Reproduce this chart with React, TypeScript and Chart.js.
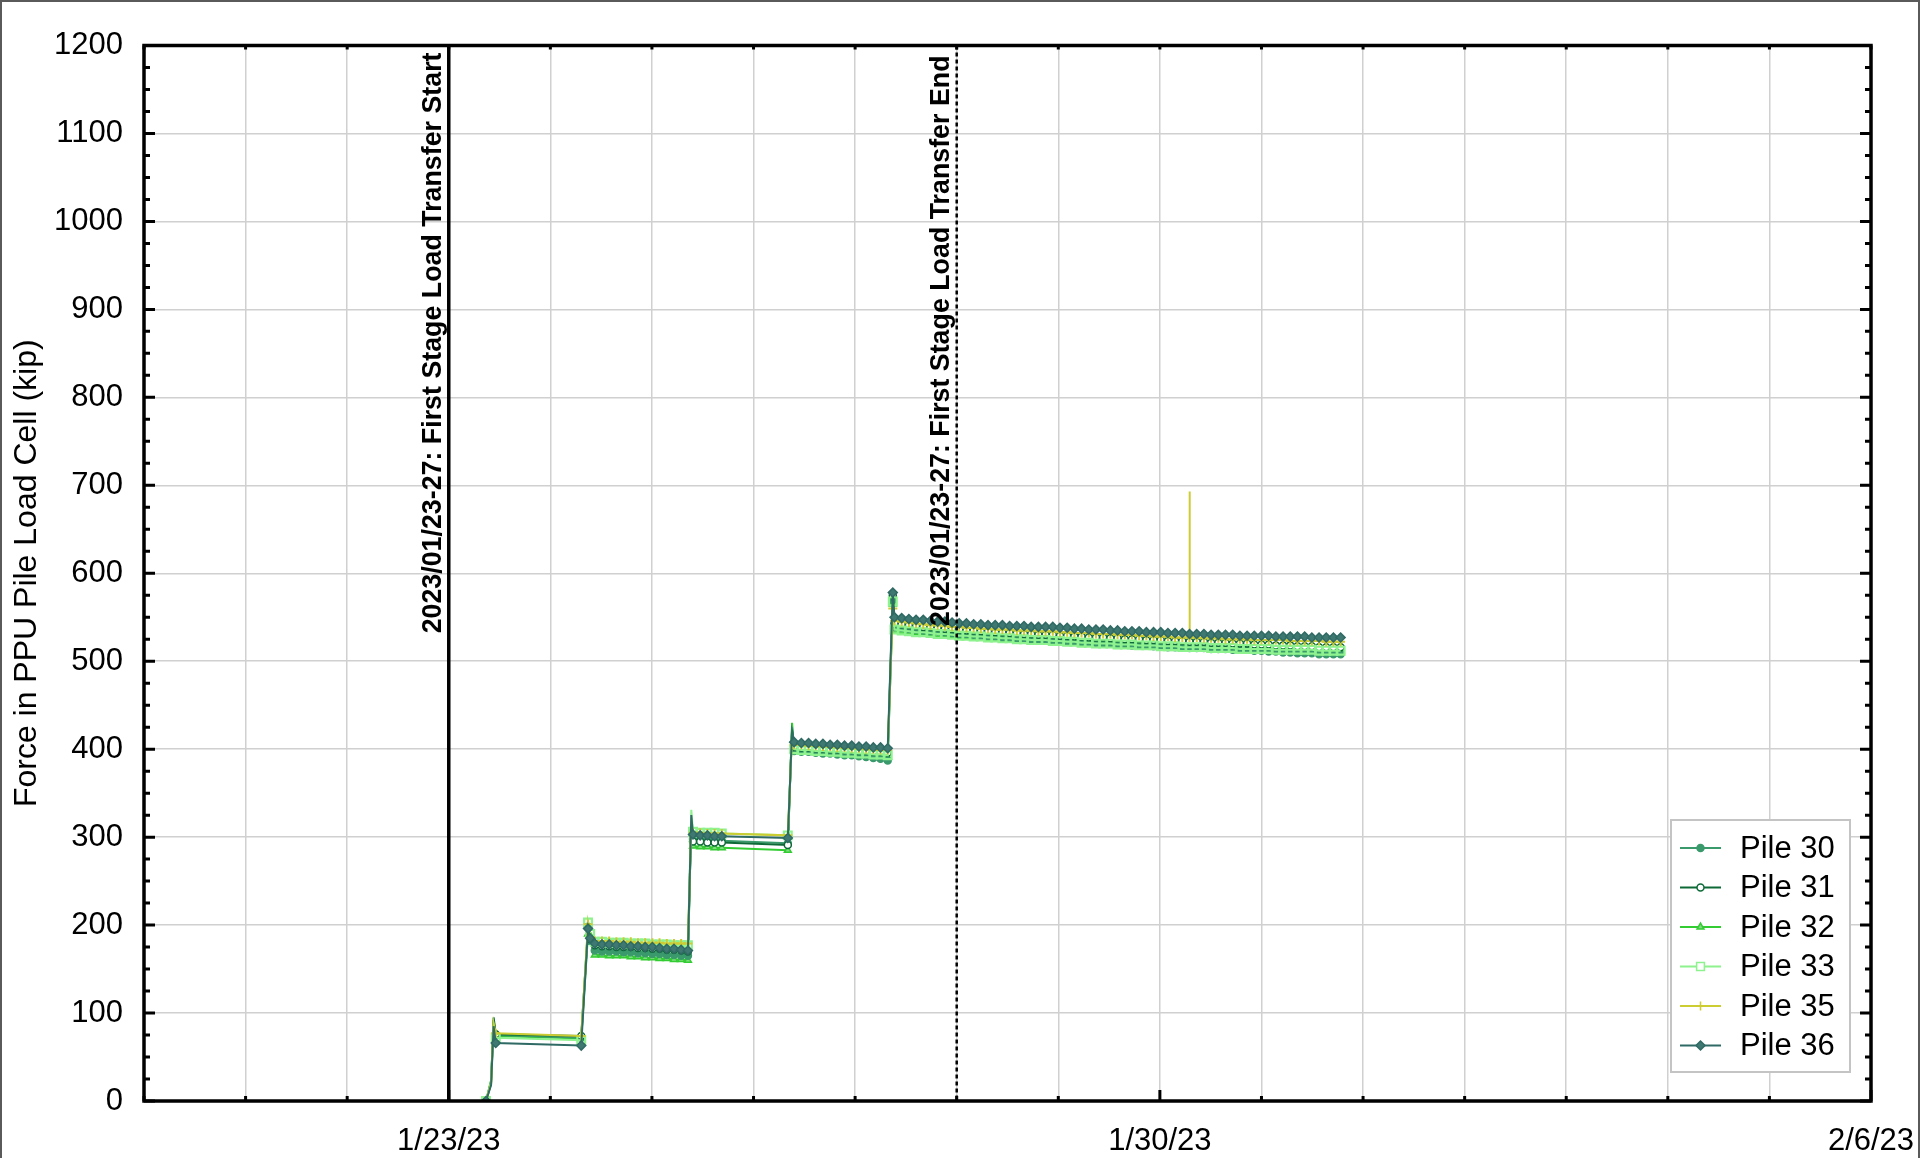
import React, { useEffect, useRef } from 'react';
import { Chart, registerables } from 'chart.js';

Chart.register(...registerables);

const FONT = "'Liberation Sans', Arial, Helvetica, sans-serif";

// Time of each reading, hours after 2023-01-23 00:00
const hours = [
  // load step 1
  8.8, 10.0, 10.6, 11.1, 31.3,
  // load step 2
  32.9, 33.4, 34.5, 36.2, 37.9, 39.6, 41.3, 43.0, 44.7, 46.4, 48.1, 49.8, 51.5, 53.2, 54.9, 56.5,
  // load step 3
  57.3, 57.7, 59.4, 61.1, 62.8, 64.5, 80.1,
  // load step 4
  81.1, 81.6, 83.3, 85.0, 86.7, 88.4, 90.1, 91.8, 93.5, 95.2, 96.9, 98.6, 100.3, 102.0, 103.7,
  // load step 5
  104.9, 105.3, 107.0, 108.7, 110.4, 112.1, 113.8, 115.5, 117.2, 118.9, 120.6,
  122.3, 124.0, 125.7, 127.4, 129.1, 130.8, 132.5, 134.2, 135.9, 137.6,
  139.3, 141.0, 142.7, 144.4, 146.1, 147.8, 149.5, 151.2, 152.9, 154.6,
  156.3, 158.0, 159.7, 161.4, 163.1, 164.8, 166.5, 168.2, 169.9, 171.6,
  173.3, 175.0, 176.7, 178.4, 180.1, 181.8, 183.5, 185.2, 186.9, 188.6,
  190.3, 192.0, 193.7, 195.4, 197.1, 198.8, 200.5, 202.2, 203.9, 205.6,
  207.3, 209.0, 210.7,
];

const pile30 = [
  0, 20, 92, 75, 72,
  198, 182, 171, 170, 170, 170, 169, 169, 168, 168, 167, 167, 166, 166, 165, 165,
  320, 298, 297, 297, 296, 296, 293,
  425, 398, 397, 397, 396, 395, 395, 394, 393, 393, 392, 391, 390, 389, 387,
  570, 539, 538, 537, 536, 535, 534, 534, 533, 532, 531,
  531, 530, 529, 529, 528, 527, 527, 526, 526, 525,
  525, 524, 524, 523, 523, 522, 522, 521, 521, 520,
  520, 519, 519, 518, 518, 518, 517, 517, 516, 516,
  516, 515, 515, 515, 514, 514, 514, 513, 513, 513,
  512, 512, 511, 511, 510, 510, 509, 509, 509, 508,
  508, 508, 508,
];

const pile31 = [
  0, 22, 95, 76, 74,
  197, 184, 177, 176, 176, 175, 175, 175, 174, 174, 173, 173, 172, 172, 171, 170,
  318, 295, 295, 294, 294, 294, 291,
  422, 403, 402, 402, 401, 401, 400, 400, 399, 399, 398, 398, 397, 397, 396,
  575, 543, 542, 541, 540, 539, 539, 538, 537, 537, 536,
  535, 535, 534, 534, 533, 533, 532, 532, 531, 531,
  530, 530, 530, 529, 529, 528, 528, 527, 527, 527,
  526, 526, 525, 525, 525, 524, 524, 524, 523, 523,
  523, 522, 522, 522, 521, 521, 521, 520, 520, 520,
  519, 519, 519, 518, 518, 518, 517, 517, 517, 516,
  516, 516, 516,
];

const pile32 = [
  0, 24, 90, 74, 71,
  190, 188, 166, 166, 165, 165, 165, 164, 164, 163, 163, 162, 162, 161, 161, 160,
  322, 290, 289, 289, 288, 288, 285,
  430, 399, 398, 398, 397, 397, 396, 396, 395, 395, 394, 394, 393, 392, 391,
  565, 535, 534, 533, 533, 532, 531, 530, 530, 529, 528,
  528, 527, 527, 526, 526, 525, 525, 524, 524, 523,
  523, 523, 522, 522, 521, 521, 520, 520, 520, 519,
  519, 519, 518, 518, 518, 517, 517, 517, 516, 516,
  516, 516, 515, 515, 515, 515, 514, 514, 514, 514,
  514, 513, 513, 513, 513, 513, 512, 512, 512, 512,
  512, 512, 512,
];

const pile33 = [
  0, 22, 86, 72, 69,
  203, 190, 181, 181, 180, 180, 180, 179, 179, 179, 178, 178, 178, 177, 177, 177,
  331, 306, 305, 305, 305, 304, 302,
  418, 400, 399, 399, 398, 398, 397, 397, 396, 396, 395, 395, 394, 394, 393,
  568, 536, 535, 534, 533, 533, 532, 531, 531, 530, 529,
  529, 528, 528, 527, 527, 526, 526, 525, 525, 524,
  524, 524, 523, 523, 522, 522, 521, 521, 520, 520,
  520, 519, 519, 519, 518, 518, 518, 517, 517, 517,
  516, 516, 516, 516, 515, 515, 515, 515, 514, 514,
  514, 514, 514, 513, 513, 513, 513, 513, 513, 512,
  512, 512, 512,
];

const pile35 = [
  0, 20, 88, 77, 74,
  201, 186, 182, 182, 182, 181, 181, 181, 180, 180, 180, 180, 179, 179, 179, 179,
  318, 305, 305, 304, 304, 304, 302,
  415, 405, 405, 404, 404, 403, 403, 402, 402, 401, 401, 400, 400, 399, 399,
  560, 546, 545, 544, 543, 542, 541, 541, 540, 539, 539,
  538, 538, 537, 537, 536, 536, 536, 535, 535, 535,
  534, 534, 534, 533, 533, 532, 532, 532, 531, 531,
  531, 530, 530, 530, 529, 529, 528, 528, 528, 527,
  527, 527, 527, 526, 526, 526, 525, 525, 525, 525,
  524, 524, 524, 524, 524, 523, 523, 523, 523, 523,
  522, 522, 522,
];
// Pile 35 one-reading spike just after 175.0 h
const pile35SpikeAfterHour = 175.0;
const pile35SpikeHours = [175.03, 175.06];
const pile35SpikeValues = [693, 527];

const pile36 = [
  0, 18, 85, 66, 63,
  196, 185, 179, 178, 178, 177, 177, 176, 176, 175, 175, 174, 173, 173, 172, 171,
  325, 303, 302, 302, 301, 301, 299,
  420, 408, 407, 407, 406, 406, 405, 405, 404, 404, 403, 403, 402, 402, 401,
  578, 550, 549, 548, 547, 547, 546, 545, 545, 544, 543,
  543, 542, 542, 541, 541, 541, 540, 540, 540, 539,
  539, 539, 539, 538, 538, 537, 537, 536, 536, 536,
  535, 535, 534, 534, 534, 533, 533, 533, 532, 532,
  532, 531, 531, 531, 530, 530, 530, 530, 529, 529,
  529, 529, 529, 528, 528, 528, 528, 528, 527, 527,
  527, 527, 527,
];

const seriesNames = ['Pile 30', 'Pile 31', 'Pile 32', 'Pile 33', 'Pile 35', 'Pile 36'];
const seriesValues = [pile30, pile31, pile32, pile33, pile35, pile36];

// styles
const seriesColors = ['#3a9a6c', '#0d6a37', '#33cc33', '#8ef28e', '#cccc33', '#2f6a64'];
const seriesFills = ['#3a9a6c', '#ffffff', '#7fdc7f', 'rgba(255,255,255,0)', '#cccc33', '#3f7771'];
const seriesMarkers = ['circle', 'circle', 'triangle', 'rect', 'cross', 'rectRot'];
const seriesRadius = [3.5, 3.5, 4, 5.5, 4.5, 4.5];
const seriesMarkerWidth = [1.5, 1.5, 1.5, 2.2, 2, 1.5];
const seriesOrder = [4, 3, 5, 2, 1, 0];
const hiddenMarkerHours = [10.0, 10.6, 57.3, 81.1];

// x axis in hours after 2023-01-23 00:00 (1/20/23 .. 2/6/23)
const xMinHour = -72;
const xMaxHour = 336;
const xStepHours = 24;
const xLabelHours = [0, 168, 336];
const xLabels = ['1/23/23', '1/30/23', '2/6/23'];
const yMin = 0;
const yMax = 1200;
const yStep = 100;
const yMinorStep = 25;

const eventHours = [0, 120];
const eventLabels = [
  '2023/01/23-27: First Stage Load Transfer Start',
  '2023/01/23-27: First Stage Load Transfer End',
];
const eventDashes = [[], [4, 3]];
const eventWidths = [3.5, 2.5];
const eventTextTop = [7, 10];

const yTitle = 'Force in PPU Pile Load Cell (kip)';

function markerPath(ctx: CanvasRenderingContext2D, style: string, x: number, y: number, r: number) {
  ctx.beginPath();
  if (style === 'circle') {
    ctx.arc(x, y, r, 0, Math.PI * 2);
  } else if (style === 'triangle') {
    ctx.moveTo(x, y - r);
    ctx.lineTo(x + r * 0.866, y + r * 0.5);
    ctx.lineTo(x - r * 0.866, y + r * 0.5);
    ctx.closePath();
  } else if (style === 'rect') {
    const s = r * Math.SQRT1_2;
    ctx.rect(x - s, y - s, 2 * s, 2 * s);
  } else if (style === 'rectRot') {
    ctx.moveTo(x, y - r);
    ctx.lineTo(x + r, y);
    ctx.lineTo(x, y + r);
    ctx.lineTo(x - r, y);
    ctx.closePath();
  } else if (style === 'cross') {
    ctx.moveTo(x, y - r);
    ctx.lineTo(x, y + r);
    ctx.moveTo(x - r, y);
    ctx.lineTo(x + r, y);
  }
}

function buildPoints(i: number) {
  const pts = hours.map((h, j) => ({
    x: h,
    y: seriesValues[i][j],
    r: hiddenMarkerHours.includes(h) ? 0 : seriesRadius[i],
  }));
  if (seriesNames[i] === 'Pile 35') {
    const at = hours.indexOf(pile35SpikeAfterHour);
    pts.splice(
      at + 1,
      0,
      ...pile35SpikeHours.map((h, k) => ({ x: h, y: pile35SpikeValues[k], r: 0 })),
    );
  }
  return pts;
}

const decorPlugin = {
  id: 'decor',
  afterDatasetsDraw(chart: any) {
    const { ctx, chartArea: a } = chart;
    const xs = chart.scales.x;
    eventHours.forEach((h, i) => {
      const px = xs.getPixelForValue(h);
      ctx.save();
      ctx.strokeStyle = '#000';
      ctx.lineWidth = eventWidths[i];
      ctx.setLineDash(eventDashes[i]);
      ctx.beginPath();
      ctx.moveTo(px, a.top);
      ctx.lineTo(px, a.bottom);
      ctx.stroke();
      ctx.restore();

      ctx.save();
      ctx.translate(px - 8, a.top + eventTextTop[i]);
      ctx.rotate(-Math.PI / 2);
      ctx.font = `bold 26.8px ${FONT}`;
      ctx.fillStyle = '#000';
      ctx.textAlign = 'right';
      ctx.textBaseline = 'alphabetic';
      ctx.fillText(eventLabels[i], 0, 0);
      ctx.restore();
    });
  },
  afterDraw(chart: any) {
    const { ctx, chartArea: a } = chart;
    const xs = chart.scales.x;
    const ys = chart.scales.y;

    ctx.save();
    // plot frame
    ctx.strokeStyle = '#000';
    ctx.lineWidth = 3.5;
    ctx.strokeRect(a.left, a.top, a.right - a.left, a.bottom - a.top);

    // inward ticks
    ctx.lineWidth = 3;
    ctx.beginPath();
    for (let v = yMin; v <= yMax; v += yMinorStep) {
      const py = ys.getPixelForValue(v);
      const len = v % yStep === 0 ? 11 : 6;
      ctx.moveTo(a.left, py);
      ctx.lineTo(a.left + len, py);
      ctx.moveTo(a.right, py);
      ctx.lineTo(a.right - len, py);
    }
    for (let h = xMinHour; h <= xMaxHour; h += xStepHours) {
      const px = xs.getPixelForValue(h);
      const major = xLabelHours.includes(h);
      ctx.moveTo(px, a.bottom);
      ctx.lineTo(px, a.bottom - (major ? 11 : 5));
      ctx.moveTo(px, a.top);
      ctx.lineTo(px, a.top + 4);
    }
    ctx.stroke();

    // y axis title
    ctx.save();
    ctx.translate(27, (a.top + a.bottom) / 2);
    ctx.rotate(-Math.PI / 2);
    ctx.font = `32px ${FONT}`;
    ctx.fillStyle = '#000';
    ctx.textAlign = 'center';
    ctx.textBaseline = 'middle';
    ctx.fillText(yTitle, 0, 0);
    ctx.restore();

    // legend box
    const boxRight = a.right - 21;
    const boxBottom = a.bottom - 29;
    const boxW = 179;
    const boxH = 252;
    const boxLeft = boxRight - boxW;
    const boxTop = boxBottom - boxH;
    ctx.fillStyle = '#fff';
    ctx.fillRect(boxLeft, boxTop, boxW, boxH);
    ctx.strokeStyle = '#c4c4c4';
    ctx.lineWidth = 2;
    ctx.strokeRect(boxLeft, boxTop, boxW, boxH);
    const rowGap = 39.5;
    const row0 = boxTop + 28;
    seriesNames.forEach((name, i) => {
      const yy = row0 + i * rowGap;
      ctx.strokeStyle = seriesColors[i];
      ctx.lineWidth = 2;
      ctx.beginPath();
      ctx.moveTo(boxLeft + 9, yy);
      ctx.lineTo(boxLeft + 50, yy);
      ctx.stroke();
      markerPath(ctx, seriesMarkers[i], boxLeft + 29.5, yy, seriesRadius[i]);
      if (seriesMarkers[i] !== 'cross') {
        ctx.fillStyle = seriesMarkers[i] === 'rect' ? '#ffffff' : seriesFills[i];
        ctx.fill();
      }
      ctx.lineWidth = 1.5;
      ctx.stroke();
      ctx.fillStyle = '#000';
      ctx.font = `31px ${FONT}`;
      ctx.textAlign = 'left';
      ctx.textBaseline = 'middle';
      ctx.fillText(name, boxLeft + 69, yy + 1);
    });

    // outer image border
    ctx.strokeStyle = '#5a5a5a';
    ctx.lineWidth = 2;
    ctx.beginPath();
    ctx.moveTo(1, chart.height + 5);
    ctx.lineTo(1, 1);
    ctx.lineTo(1919, 1);
    ctx.lineTo(1919, chart.height + 5);
    ctx.stroke();
    ctx.restore();
  },
};

export default function App() {
  const ref = useRef<HTMLCanvasElement>(null);

  useEffect(() => {
    if (!ref.current) return;
    const tickFont = { family: FONT, size: 31 };
    const chart = new Chart(ref.current, {
      type: 'line',
      data: {
        datasets: seriesNames.map((name, i) => {
          const pts = buildPoints(i);
          return {
            label: name,
            data: pts.map((p) => ({ x: p.x, y: p.y })),
            borderColor: seriesColors[i],
            backgroundColor: seriesFills[i],
            pointBackgroundColor: seriesFills[i],
            pointBorderColor: seriesColors[i],
            pointStyle: seriesMarkers[i] as any,
            pointRadius: pts.map((p) => p.r),
            pointBorderWidth: seriesMarkerWidth[i],
            borderWidth: 2,
            tension: 0,
            fill: false,
            order: seriesOrder[i],
          };
        }),
      },
      options: {
        animation: false,
        responsive: false,
        events: [],
        layout: { padding: { left: 0, top: 45.5, right: 61, bottom: 0 } },
        plugins: {
          legend: { display: false },
          tooltip: { enabled: false },
        },
        scales: {
          x: {
            type: 'linear',
            min: xMinHour,
            max: xMaxHour,
            afterFit: (s: any) => {
              s.height = 57;
              s.paddingLeft = 0;
              s.paddingRight = 0;
            },
            ticks: {
              stepSize: xStepHours,
              autoSkip: false,
              maxRotation: 0,
              padding: 22,
              color: '#000',
              font: tickFont,
              callback: (v: any) => {
                const k = xLabelHours.indexOf(Number(v));
                return k >= 0 ? xLabels[k] : '';
              },
            },
            grid: { color: '#d0d0d0', lineWidth: 1.5, drawTicks: false },
            border: { display: false },
          },
          y: {
            type: 'linear',
            min: yMin,
            max: yMax,
            afterFit: (s: any) => {
              s.width = 144;
              s.paddingTop = 0;
              s.paddingBottom = 0;
            },
            ticks: {
              stepSize: yStep,
              padding: 21,
              color: '#000',
              font: tickFont,
              callback: (v: any) => String(v),
            },
            grid: { color: '#d0d0d0', lineWidth: 1.5, drawTicks: false },
            border: { display: false },
          },
        },
      },
      plugins: [decorPlugin],
    });
    return () => chart.destroy();
  }, []);

  return (
    <div style={{ position: 'fixed', left: 0, top: 0, width: 1932, height: 1158, background: '#fff' }}>
      <canvas ref={ref} width={1932} height={1158} style={{ display: 'block', width: 1932, height: 1158 }} />
    </div>
  );
}
